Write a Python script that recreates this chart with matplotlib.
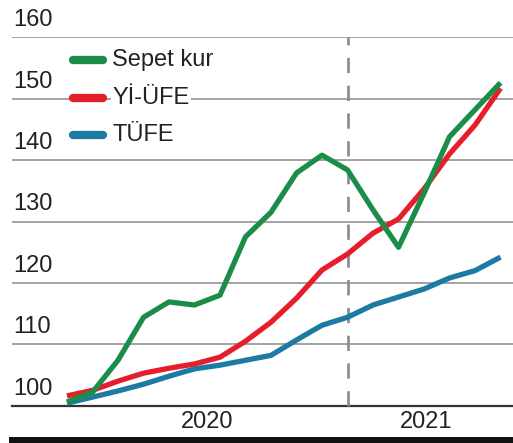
import matplotlib
matplotlib.use("Agg")
import matplotlib.pyplot as plt
import numpy as np
from matplotlib.patches import Rectangle

# ---- data (index, monthly) ----
sepet_kur = [100.6, 102.2, 107.4, 114.4, 116.9, 116.4, 118.0, 127.5, 131.5, 137.9,
             140.8, 138.4, 131.9, 125.8, 134.6, 143.8, 148.2, 152.6]
yi_ufe = [101.6, 102.5, 104.0, 105.3, 106.1, 106.8, 107.9, 110.5, 113.6, 117.5,
          122.1, 124.7, 128.1, 130.4, 135.3, 141.0, 145.7, 151.7]
tufe = [100.4, 101.4, 102.4, 103.5, 104.8, 106.0, 106.6, 107.4, 108.2, 110.7,
        113.1, 114.4, 116.4, 117.7, 119.0, 120.8, 122.0, 124.2]
series_names = ["Sepet kur", "Yİ-ÜFE", "TÜFE"]
y_ticks = [100, 110, 120, 130, 140, 150, 160]
year_labels = ["2020", "2021"]
year_pos = [5.5, 14.1]
year_break = 11

colors = ["#1b8d48", "#e61e2b", "#1d7aa2"]
W, H = 513, 443
plt.rcParams['font.family'] = ['Liberation Sans', 'DejaVu Sans']
plt.rcParams['lines.scale_dashes'] = False

fig = plt.figure(figsize=(W / 100, H / 100), dpi=100)
fig.patch.set_facecolor("white")

ax_left, ax_right = 12, 513
ax_top, ax_bot = 37.3, 405.7
ax = fig.add_axes([ax_left / W, (H - ax_bot) / H, (ax_right - ax_left) / W, (ax_bot - ax_top) / H])
ax.set_facecolor("none")
x = np.arange(len(sepet_kur))
ax.set_xlim(-2.157, 17.49)
ax.set_ylim(100, 160)
for s in ax.spines.values():
    s.set_visible(False)
ax.set_xticks([])
ax.set_yticks([])

# gridlines
for v in y_ticks:
    if v == 100:
        ax.axhline(v, color="#333333", lw=1.6, zorder=1, clip_on=False)
    else:
        ax.axhline(v, color="#8a8a8a", lw=1.1, zorder=1)
    ax.annotate(str(v), xy=(0.002, v), xycoords=("axes fraction", "data"),
                xytext=(0, 8), textcoords="offset points",
                ha="left", va="baseline", fontsize=17, color="#222222")

# dashed year break
ax.plot([year_break, year_break], [100, 160], color="#8a8a8a", lw=1.9,
        dashes=(11, 9), zorder=2, clip_on=False)

# lines
for data, c, z in [(tufe, colors[2], 3), (yi_ufe, colors[1], 4), (sepet_kur, colors[0], 5)]:
    ax.plot(x, data, color=c, lw=3.8, zorder=z, clip_on=False,
            solid_joinstyle="round", solid_capstyle="butt")

# legend
leg_y = [0.938, 0.835, 0.735]
for name, c, ly in zip(series_names, colors, leg_y):
    ax.plot([0.121, 0.181], [ly, ly], transform=ax.transAxes, color=c, lw=6.0,
            solid_capstyle="round", zorder=7)
    ax.text(0.2, ly, name, transform=ax.transAxes, ha="left", va="center",
            fontsize=17, color="#222222", zorder=6,
            bbox=dict(facecolor="white", edgecolor="none", pad=1.0))

# year labels
for lab, p in zip(year_labels, year_pos):
    ax.annotate(lab, xy=(p, 100), xycoords="data", xytext=(0, -12),
                textcoords="offset points", ha="center", va="center",
                fontsize=17, color="#222222", annotation_clip=False)

# black bar at bottom
fig.patches.append(Rectangle((9 / W, 0), 1 - 9 / W, 6.5 / H, transform=fig.transFigure,
                             facecolor="#111111", edgecolor="none"))

fig.savefig("out.png", dpi=100, facecolor="white")
